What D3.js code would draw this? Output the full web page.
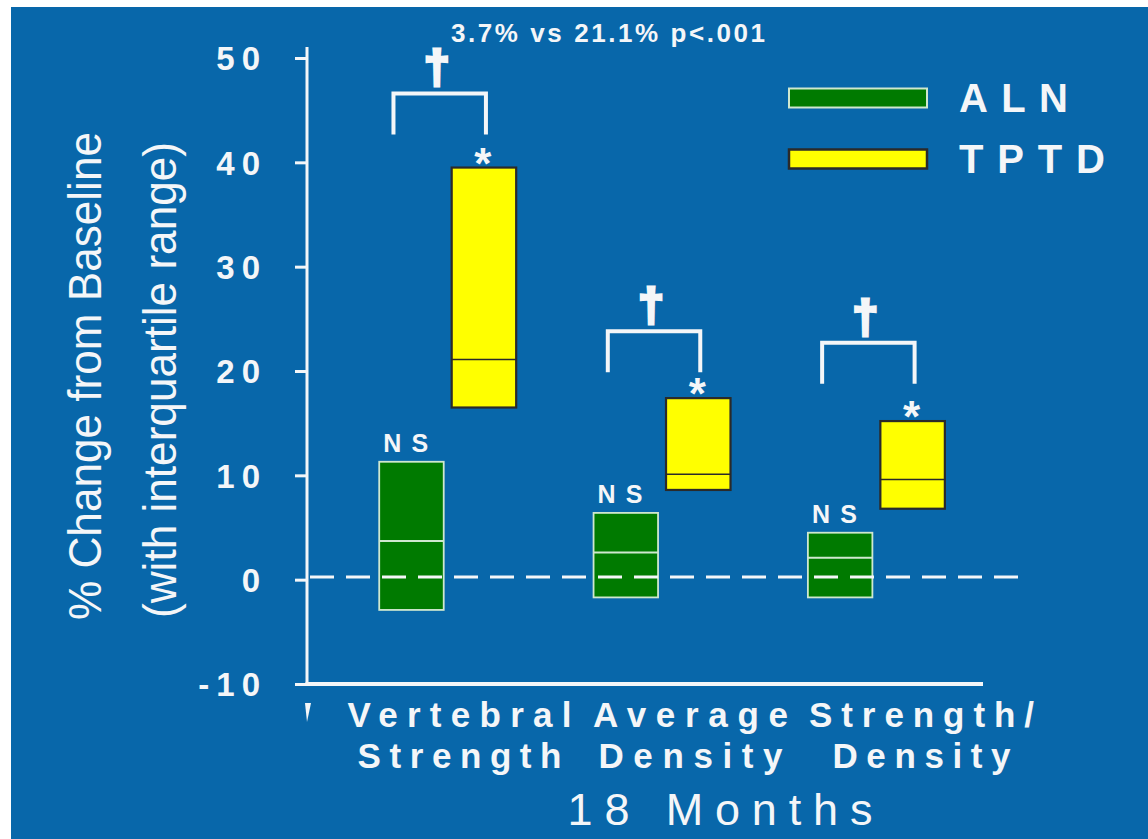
<!DOCTYPE html>
<html>
<head>
<meta charset="utf-8">
<script src="https://cdn.jsdelivr.net/npm/d3@7"></script>
<style>
  html, body { margin: 0; padding: 0; background: #ffffff; }
  svg { display: block; }
  text { font-family: "Liberation Sans", Arial, sans-serif; fill: #f4f6f8; }
</style>
</head>
<body>
<svg id="chart" width="1148" height="839"></svg>
<script>
// Outcomes at 18 months, % change from baseline (median with interquartile range)
const categories = ["Vertebral Strength", "Average Density", "Strength/ Density"];
const categoryLines = [["Vertebral", "Strength"], ["Average", "Density"], ["Strength/", "Density"]];
const groups = ["ALN", "TPTD"];

const alnQ1     = [-2.9, -1.7, -1.7];
const alnMedian = [3.7, 2.6, 2.1];
const alnQ3     = [11.3, 6.4, 4.5];

const tptdQ1     = [16.5, 8.6, 6.8];
const tptdMedian = [21.1, 10.1, 9.6];
const tptdQ3     = [39.5, 17.4, 15.2];

const alnNote  = ["NS", "NS", "NS"];
const tptdNote = ["*", "*", "*"];
const bracketLevel = [46.6, 23.8, 22.7];   // height of the between-group comparison bracket
const bracketMark = ["\u2020", "\u2020", "\u2020"];

const yTicks = [-10, 0, 10, 20, 30, 40, 50];
const yTickLabels = ["-10", "0", "10", "20", "30", "40", "50"];
const zeroLine = 0.25;

const titleText = "3.7% vs 21.1% p<.001";
const yTitle = ["% Change from Baseline", "(with interquartile range)"];
const xTitle = "18 Months";

const colors = { ALN: "#007a00", TPTD: "#ffff00" };
const strokes = { ALN: "#cfe8cf", TPTD: "#2a2a2a" };
const ink = "#f4f6f8";

const svg = d3.select("#chart");

// backdrop
svg.append("rect").attr("width", 1148).attr("height", 839).attr("fill", "#ffffff");
svg.append("rect").attr("x", 11).attr("y", 7).attr("width", 1137).attr("height", 832).attr("fill", "#0867aa");

// scales
const y = d3.scaleLinear().domain([-10, 50]).range([684, 58]);
const x = d3.scaleBand().domain(categories).range([340, 983]).paddingInner(0).paddingOuter(0);
const bw = x.bandwidth();
const sub = d3.scaleBand().domain(groups).range([bw * 0.183, bw * 0.822]).paddingInner(0.11);
const labelX = d3.scaleBand().domain(categories).range([344, 1037]);
const axisX = 307;

// y axis
const yAxis = svg.append("g").attr("transform", `translate(${axisX},0)`)
  .call(d3.axisLeft(y).tickValues(yTicks).tickSize(12).tickSizeOuter(0)
    .tickFormat((d, i) => yTickLabels[i]));
yAxis.select(".domain").remove();
yAxis.selectAll(".tick line").attr("stroke", ink).attr("stroke-width", 3);
yAxis.selectAll(".tick text")
  .attr("x", -40).attr("dy", "0.36em")
  .style("font-size", "33px").style("font-weight", "bold").style("letter-spacing", "7px")
  .attr("fill", ink);
yAxis.append("line")
  .attr("x1", 0).attr("x2", 0).attr("y1", y.range()[1] - 11).attr("y2", y.range()[0] + 1.5)
  .attr("stroke", ink).attr("stroke-width", 3);

// x axis baseline
svg.append("line")
  .attr("x1", axisX - 1.5).attr("x2", x.range()[1]).attr("y1", y(-10)).attr("y2", y(-10))
  .attr("stroke", ink).attr("stroke-width", 4);
// short stub below the origin
svg.append("path")
  .attr("d", `M${axisX - 2},${y(-10) + 19} L${axisX + 4},${y(-10) + 19} L${axisX},${y(-10) + 38} Z`)
  .attr("fill", ink);

// boxes
const rows = categories.map((c, i) => ({
  c, i,
  boxes: [
    { g: "ALN", q1: alnQ1[i], med: alnMedian[i], q3: alnQ3[i], note: alnNote[i] },
    { g: "TPTD", q1: tptdQ1[i], med: tptdMedian[i], q3: tptdQ3[i], note: tptdNote[i] }
  ]
}));

const groupG = svg.selectAll("g.cat").data(rows).join("g")
  .attr("class", "cat")
  .attr("transform", d => `translate(${x(d.c)},0)`);

const box = groupG.selectAll("g.box").data(d => d.boxes).join("g").attr("class", "box");
box.append("rect")
  .attr("x", d => sub(d.g))
  .attr("y", d => y(d.q3))
  .attr("width", sub.bandwidth())
  .attr("height", d => y(d.q1) - y(d.q3))
  .attr("fill", d => colors[d.g])
  .attr("stroke", d => strokes[d.g])
  .attr("stroke-width", d => d.g === "ALN" ? 1.8 : 2.2);

// zero reference line (drawn over the boxes)
svg.append("line")
  .attr("x1", axisX + 3).attr("x2", 1022).attr("y1", y(zeroLine)).attr("y2", y(zeroLine))
  .attr("stroke", ink).attr("stroke-width", 3).attr("stroke-dasharray", "24 12");

box.append("line")
  .attr("x1", d => sub(d.g)).attr("x2", d => sub(d.g) + sub.bandwidth())
  .attr("y1", d => y(d.med)).attr("y2", d => y(d.med))
  .attr("stroke", d => strokes[d.g])
  .attr("stroke-width", d => d.g === "ALN" ? 2 : 1.6);

// NS markers
box.filter(d => d.g === "ALN").append("text")
  .attr("x", d => sub(d.g) + 4)
  .attr("y", d => y(d.q3) - 10)
  .attr("textLength", 45).attr("lengthAdjust", "spacing")
  .style("font-size", "25px").style("font-weight", "bold")
  .text(d => d.note);

// significance stars
box.filter(d => d.g === "TPTD").append("text")
  .attr("x", d => sub(d.g) + sub.bandwidth() / 2 - 1)
  .attr("y", d => y(d.q3) + 11)
  .attr("text-anchor", "middle")
  .style("font-size", "44px").style("font-weight", "bold")
  .attr("fill", "#e6e8ec")
  .text(d => d.note);

// comparison brackets with dagger
groupG.each(function(d) {
  const g = d3.select(this);
  const left = sub("ALN") + sub.bandwidth() / 2 - 18;
  const right = sub("TPTD") + sub.bandwidth() / 2 + 2;
  const top = y(bracketLevel[d.i]);
  g.append("path")
    .attr("d", `M${left},${top + 41} L${left},${top} L${right},${top} L${right},${top + 41}`)
    .attr("fill", "none").attr("stroke", ink).attr("stroke-width", 4);
  g.append("text")
    .attr("x", (left + right) / 2 - 3)
    .attr("y", top - 10)
    .attr("text-anchor", "middle")
    .style("font-size", "46px").style("font-weight", "bold")
    .attr("stroke", ink).attr("stroke-width", 3.2).attr("stroke-linejoin", "miter")
    .text(bracketMark[d.i]);
});

// category labels
const lab = svg.selectAll("g.lab").data(categories).join("g").attr("class", "lab");
const labelWidths = [[224, 204], [195, 184], [225, 178]];
lab.each(function(c, i) {
  const cx = labelX(c) + labelX.bandwidth() / 2;
  categoryLines[i].forEach((line, j) => {
    d3.select(this).append("text")
      .attr("x", cx).attr("y", j === 0 ? 727 : 768)
      .attr("text-anchor", "middle")
      .attr("textLength", labelWidths[i][j]).attr("lengthAdjust", "spacing")
      .style("font-size", "35px").style("font-weight", "bold")
      .text(line);
  });
});

// axis titles
svg.append("text")
  .attr("x", 720).attr("y", 825).attr("text-anchor", "middle")
  .attr("textLength", 305).attr("lengthAdjust", "spacing")
  .style("font-size", "45px")
  .text(xTitle);

svg.append("text")
  .attr("transform", "translate(101,376) rotate(-90)")
  .attr("text-anchor", "middle")
  .attr("textLength", 488).attr("lengthAdjust", "spacingAndGlyphs")
  .style("font-size", "46px")
  .text(yTitle[0]);
svg.append("text")
  .attr("transform", "translate(176,380) rotate(-90)")
  .attr("text-anchor", "middle")
  .attr("textLength", 476).attr("lengthAdjust", "spacingAndGlyphs")
  .style("font-size", "46px")
  .text(yTitle[1]);

// headline comparison
svg.append("text")
  .attr("x", 451).attr("y", 42)
  .attr("textLength", 314).attr("lengthAdjust", "spacing")
  .style("font-size", "26px").style("font-weight", "bold")
  .text(titleText);

// legend
const legend = svg.append("g");
const legendY = d3.scalePoint().domain(groups).range([98, 159]);
legend.selectAll("rect").data(groups).join("rect")
  .attr("x", 789).attr("y", g => legendY(g) - 9.5)
  .attr("width", 138).attr("height", 19)
  .attr("fill", g => colors[g])
  .attr("stroke", g => strokes[g])
  .attr("stroke-width", g => g === "ALN" ? 2 : 2.5);
legend.selectAll("text").data(groups).join("text")
  .attr("x", 959).attr("y", g => legendY(g) + 14)
  .attr("textLength", g => g === "ALN" ? 109 : 146).attr("lengthAdjust", "spacing")
  .style("font-size", "40px").style("font-weight", "bold")
  .text(g => g);
</script>
</body>
</html>
